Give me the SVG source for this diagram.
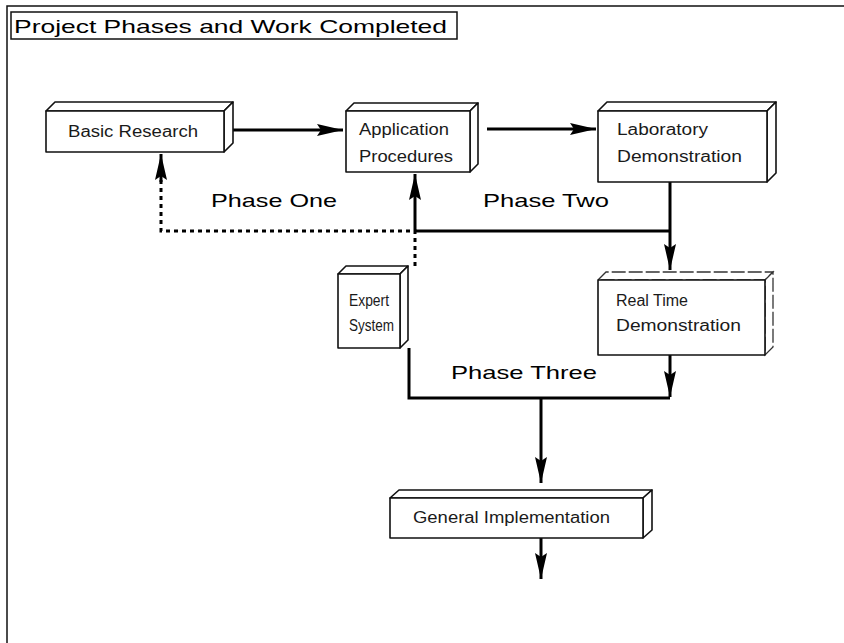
<svg xmlns="http://www.w3.org/2000/svg" width="844" height="643" viewBox="0 0 844 643">
  <style>
    .frame { fill: none; stroke: #111; stroke-width: 1.5; }
    .face { fill: #fff; stroke: #111; stroke-width: 1.6; stroke-linejoin: round; }
    .faint { fill: #fff; stroke: #333; stroke-width: 1.3; stroke-dasharray: 14 3; }
    .lbl { font-family: "Liberation Sans", Arial, sans-serif; font-size: 16px; fill: #1a1a1a; }
    .phase { font-family: "Liberation Sans", Arial, sans-serif; font-size: 19px; fill: #000; }
    .title { font-family: "Liberation Sans", Arial, sans-serif; font-size: 19px; fill: #000; }
    .wire { fill: none; stroke: #000; stroke-width: 3; }
    .dots { fill: none; stroke: #000; stroke-width: 3; stroke-dasharray: 4 4; }
  </style>
  <defs>
    <marker id="head" markerUnits="userSpaceOnUse" markerWidth="30" markerHeight="16" refX="26" refY="7" orient="auto">
      <path d="M0,1 L26,7 L0,13 L4,7 Z" fill="#000"/>
    </marker>
  </defs>

  <rect width="844" height="643" fill="#fff"/>

  <!-- outer frame: top and left rule only -->
  <path class="frame" d="M7,643 V6 H844"/>

  <!-- title -->
  <g id="title">
    <rect class="frame" x="11" y="12" width="446" height="27"/>
    <text class="title" x="14" y="33" textLength="433" lengthAdjust="spacingAndGlyphs">Project Phases and Work Completed</text>
  </g>

  <!-- connectors -->
  <g id="connectors">
    <path class="wire" d="M233,130 H343" marker-end="url(#head)"/>
    <path class="wire" d="M487,129 H596" marker-end="url(#head)"/>
    <path class="wire" d="M415,231 H670"/>
    <path class="wire" d="M670,182 V270" marker-end="url(#head)"/>
    <path class="wire" d="M415,231 V174" marker-end="url(#head)"/>
    <path class="dots" d="M415,266 V231 H161 V180"/>
    <path class="wire" d="M161,182 V154" marker-end="url(#head)"/>
    <path class="wire" d="M409,348 V398 H670"/>
    <path class="wire" d="M670,355 V397" marker-end="url(#head)"/>
    <path class="wire" d="M541,398 V483" marker-end="url(#head)"/>
    <path class="wire" d="M541,538 V579" marker-end="url(#head)"/>
  </g>

  <!-- phase labels -->
  <g id="phase-labels">
    <text class="phase" x="211" y="207" textLength="126" lengthAdjust="spacingAndGlyphs">Phase One</text>
    <text class="phase" x="483" y="207" textLength="126" lengthAdjust="spacingAndGlyphs">Phase Two</text>
    <text class="phase" x="451" y="379" textLength="146" lengthAdjust="spacingAndGlyphs">Phase Three</text>
  </g>

  <!-- nodes: front face, top bevel, right bevel -->
  <g id="basic-research">
    <polygon class="face" points="46,111 55,102 233,102 224,111"/>
    <polygon class="face" points="224,111 233,102 233,143 224,152"/>
    <rect class="face" x="46" y="111" width="178" height="41"/>
    <text class="lbl" x="68" y="137" textLength="130" lengthAdjust="spacingAndGlyphs">Basic Research</text>
  </g>

  <g id="application-procedures">
    <polygon class="face" points="346,111 354,103 478,103 470,111"/>
    <polygon class="face" points="470,111 478,103 478,164 470,172"/>
    <rect class="face" x="346" y="111" width="124" height="61"/>
    <text class="lbl" x="359" y="135" textLength="90" lengthAdjust="spacingAndGlyphs">Application</text>
    <text class="lbl" x="359" y="162" textLength="94" lengthAdjust="spacingAndGlyphs">Procedures</text>
  </g>

  <g id="laboratory-demonstration">
    <polygon class="face" points="598,111 607,102 776,102 767,111"/>
    <polygon class="face" points="767,111 776,102 776,173 767,182"/>
    <rect class="face" x="598" y="111" width="169" height="71"/>
    <text class="lbl" x="617" y="135" textLength="91" lengthAdjust="spacingAndGlyphs">Laboratory</text>
    <text class="lbl" x="617" y="162" textLength="125" lengthAdjust="spacingAndGlyphs">Demonstration</text>
  </g>

  <g id="expert-system">
    <polygon class="face" points="338,274 346,266 408,266 400,274"/>
    <polygon class="face" points="400,274 408,266 408,340 400,348"/>
    <rect class="face" x="338" y="274" width="62" height="74"/>
    <text class="lbl" x="349" y="306" textLength="40" lengthAdjust="spacingAndGlyphs">Expert</text>
    <text class="lbl" x="349" y="331" textLength="45" lengthAdjust="spacingAndGlyphs">System</text>
  </g>

  <g id="real-time-demonstration">
    <polygon class="faint" points="598,280 606,272 773,272 765,280"/>
    <polygon class="faint" points="765,280 773,272 773,347 765,355"/>
    <rect class="face" x="598" y="280" width="167" height="75"/>
    <text class="lbl" x="616" y="306" textLength="72" lengthAdjust="spacingAndGlyphs">Real Time</text>
    <text class="lbl" x="616" y="331" textLength="125" lengthAdjust="spacingAndGlyphs">Demonstration</text>
  </g>

  <g id="general-implementation">
    <polygon class="face" points="390,498 399,490 652,490 643,498"/>
    <polygon class="face" points="643,498 652,490 652,530 643,538"/>
    <rect class="face" x="390" y="498" width="253" height="40"/>
    <text class="lbl" x="413" y="523" textLength="197" lengthAdjust="spacingAndGlyphs">General Implementation</text>
  </g>
</svg>
